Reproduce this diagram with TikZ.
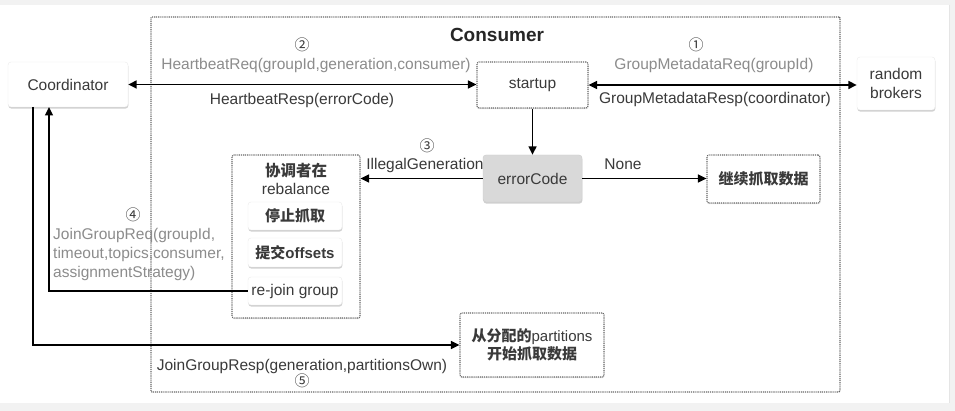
\documentclass[tikz,border=0pt]{standalone}
\usepackage{fontspec}
\setmainfont{Liberation Sans}
\newfontfamily\cjk{Noto Sans CJK SC}
\usetikzlibrary{arrows.meta,shadows,calc}
\definecolor{txt}{HTML}{3A3A3A}
\definecolor{lt}{HTML}{8C8C8C}
\definecolor{brd}{HTML}{666666}
\begin{document}
\begin{tikzpicture}[x=1pt,y=-1pt,
  font=\fontsize{15.5}{18}\selectfont, text=txt,
  shbox/.style={rectangle, rounded corners=3pt, fill=white, draw=black!8,
     drop shadow={shadow xshift=0.4pt, shadow yshift=-1.6pt, opacity=0.3, fill=black!60},
     inner sep=0pt, align=center},
  dotbox/.style={rectangle, rounded corners=2pt, fill=white, draw=brd, line width=1.1pt,
     dash pattern=on 1pt off 0.9pt, inner sep=0pt, align=center},
  dsh/.style={drop shadow={shadow xshift=0.3pt, shadow yshift=-1.2pt, opacity=0.15, fill=black!60}},
  arr/.style={line width=1.6pt, -{Triangle[length=8.5pt,width=8pt]}},
  darr/.style={line width=1.6pt, {Triangle[length=8.5pt,width=8pt]}-{Triangle[length=8.5pt,width=8pt]}},
  lbl/.style={inner sep=0pt, align=center},
  num/.style={inner sep=0pt, font=\cjk\fontsize{15}{16}\selectfont, text=txt},
]
\useasboundingbox (0,0) rectangle (955,411);
% background
\fill[black!5] (0,0) rectangle (955,411);
\fill[white] (0,5) rectangle (949,403);
\draw[black!10, line width=0.8pt] (949,5) -- (949,403);

% consumer frame
\node[dotbox, minimum width=689pt, minimum height=375pt, rounded corners=1pt, fill=none] (cons) at (495.5,204.5) {};
\node[lbl, font=\bfseries\fontsize{19}{22}\selectfont, text=black!85] (title) at (497,35) {Consumer};

% nodes
\node[shbox, minimum width=120pt, minimum height=45pt] (coord) at (68,84.5) {Coordinator};
\node[dotbox, dsh, minimum width=111pt, minimum height=46pt] (startup) at (532.5,85) {startup};
\node[shbox, minimum width=78pt, minimum height=53pt, font=\fontsize{15.5}{19}\selectfont] (brok) at (896,83.5) {random\\brokers};
\node[shbox, fill=black!15, draw=black!20, minimum width=99pt, minimum height=47pt] (err) at (532.5,178.5) {errorCode};
\node[dotbox, dsh, minimum width=113pt, minimum height=48pt, font=\cjk\bfseries\fontsize{15}{18}\selectfont] (cont) at (763.5,179) {继续抓取数据};
\node[dotbox, dsh, minimum width=128pt, minimum height=163pt] (reb) at (296,236.5) {};
\node[lbl, font=\fontsize{15.5}{18}\selectfont] (rebt) at (296,179) {{\cjk\bfseries 协调者在}\\rebalance};
\node[shbox, minimum width=94pt, minimum height=28pt, font=\cjk\bfseries\fontsize{15}{18}\selectfont] (stop) at (295,216) {停止抓取};
\node[shbox, minimum width=94pt, minimum height=29pt, font=\bfseries\fontsize{15}{18}\selectfont] (commit) at (295,252.5) {{\cjk 提交}offsets};
\node[shbox, minimum width=94pt, minimum height=28pt] (rejoin) at (295,291) {re-join group};
\node[dotbox, dsh, minimum width=144pt, minimum height=64pt, font=\fontsize{15}{18}\selectfont] (part) at (532,345) {{\cjk\bfseries 从分配的}partitions\\{\cjk\bfseries 开始抓取数据}};

% connectors
\draw[darr] (coord.east) -- (coord.east -| startup.west);
\draw[darr] (startup.east) -- (startup.east -| brok.west);
\draw[arr] (startup) -- (err);
\draw[arr] (err.west) -- (err.west -| reb.east);
\draw[arr] (err.east) -- (err.east -| cont.west);
\coordinate (c1) at (33,107);
\coordinate (c2) at (49,107);
\draw[arr] (rejoin.west) -| (c2);
\draw[arr] (c1) |- (part.west);

% labels
\node[num] (n2) at (302,45) {②};
\node[lbl, text=lt] (hbreq) at (316,65) {HeartbeatReq(groupId,generation,consumer)};
\node[lbl] (hbresp) at (302,100) {HeartbeatResp(errorCode)};
\node[num] (n1) at (696,45) {①};
\node[lbl, text=lt] (gmreq) at (714,65) {GroupMetadataReq(groupId)};
\node[lbl] (gmresp) at (715,99) {GroupMetadataResp(coordinator)};
\node[num] (n3) at (427,146) {③};
\node[lbl] (ill) at (425,165) {IllegalGeneration};
\node[lbl] (none) at (623,164) {None};
\node[num] (n4) at (133,215) {④};
\node[lbl, text=lt, anchor=west, align=left, font=\fontsize{15.5}{19}\selectfont] (jreq) at (53,254) {JoinGroupReq(groupId,\\timeout,topics,consumer,\\assignmentStrategy)};
\node[lbl] (jresp) at (302,366) {JoinGroupResp(generation,partitionsOwn)};
\node[num] (n5) at (302,381) {⑤};
\end{tikzpicture}
\end{document}
